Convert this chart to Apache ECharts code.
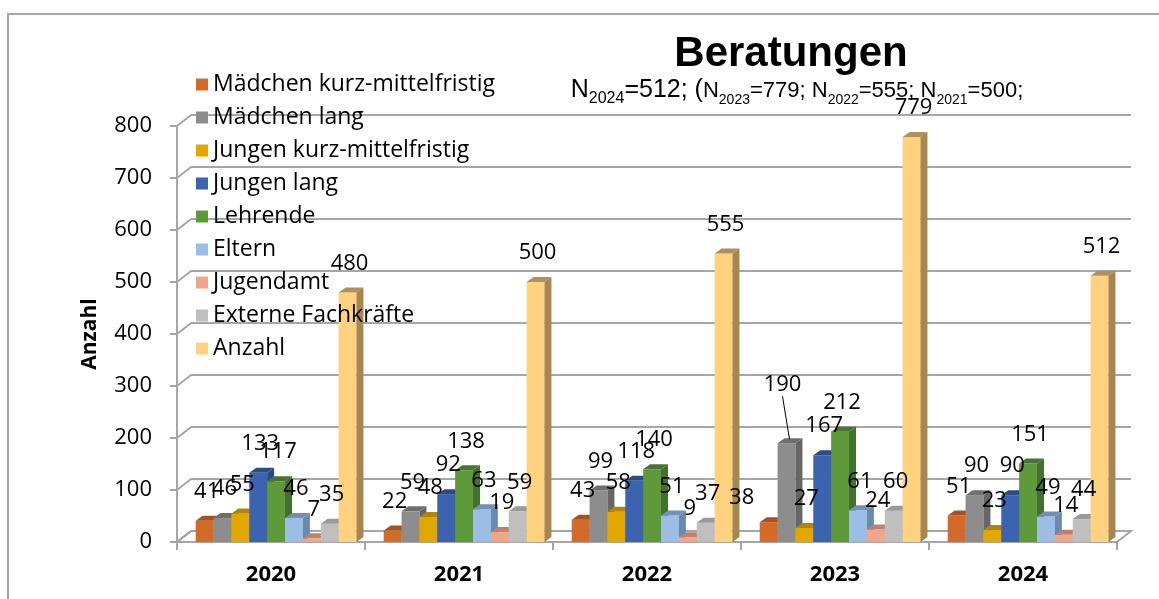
<!DOCTYPE html>
<html>
<head>
<meta charset="utf-8">
<script src="https://cdn.jsdelivr.net/npm/echarts@6/dist/echarts.min.js"></script>
<style>
html,body{margin:0;padding:0;background:#fff;}
#chart{width:1159px;height:599px;}
</style>
</head>
<body>
<div id="chart"></div>
<script>
// ---- data ----
const categories = ['2020', '2021', '2022', '2023', '2024'];
const seriesNames = ['Mädchen kurz-mittelfristig', 'Mädchen lang', 'Jungen kurz-mittelfristig', 'Jungen lang', 'Lehrende', 'Eltern', 'Jugendamt', 'Externe Fachkräfte', 'Anzahl'];
const maedchenKurz = [41, 22, 43, 38, 51];
const maedchenLang = [46, 59, 99, 190, 90];
const jungenKurz = [55, 48, 58, 27, 23];
const jungenLang = [133, 92, 118, 167, 90];
const lehrende = [117, 138, 140, 212, 151];
const eltern = [46, 63, 51, 61, 49];
const jugendamt = [7, 19, 9, 24, 14];
const externe = [35, 59, 37, 60, 44];
const anzahl = [480, 500, 555, 779, 512];
const yTicks = [0, 100, 200, 300, 400, 500, 600, 700, 800];
const allValues = [maedchenKurz, maedchenLang, jungenKurz, jungenLang, lehrende, eltern, jugendamt, externe, anzahl];

// ---- styles ----
const frontC = ['#D36A27', '#8D8D8D', '#E2A800', '#3B63B0', '#5E9A3A', '#9CBEE4', '#F0A68A', '#BFBFBF', '#FFD27F'];
const topC   = ['#A9531C', '#6F6F6F', '#B48600', '#2C4C89', '#477530', '#7090B6', '#C28068', '#9A9A9A', '#B58F58'];
const sideC  = ['#A0501A', '#666666', '#AA7F00', '#2A4882', '#43702D', '#6A89AE', '#B97A63', '#939393', '#A8864F'];
const DX = 7, DY = 5;           // bar depth
const WX = 14, WY = 11;         // wall depth
const labelFont = '"Open Sans", Lato, sans-serif';
const arial = '"Liberation Sans", Arial, sans-serif';
// label nudges (series-category): [dx, dy, leader]
const labelAdjust = {'0-3': [-29, 4, false], '1-3': [-6, -29, true]};

function barRender(si) {
  return function (params, api) {
    const ci = api.value(0), v = api.value(1);
    const b = api.coord([ci, 0]);
    const t = api.coord([ci, v]);
    const cw = api.size([1, 0])[0];
    const bw = cw * 0.855 / 9;
    const x0 = b[0] + cw * 0.027 - 4.5 * bw + si * bw;
    const children = [
      {type: 'rect', shape: {x: x0, y: t[1], width: bw, height: b[1] - t[1]}, style: {fill: frontC[si]}},
      {type: 'polygon', shape: {points: [[x0, t[1]], [x0 + bw, t[1]], [x0 + bw + DX, t[1] - DY], [x0 + DX, t[1] - DY]]}, style: {fill: topC[si]}},
      {type: 'polygon', shape: {points: [[x0 + bw, t[1]], [x0 + bw + DX, t[1] - DY], [x0 + bw + DX, b[1] - DY], [x0 + bw, b[1]]]}, style: {fill: sideC[si]}}
    ];
    const adj = labelAdjust[si + '-' + params.dataIndex] || [0, 0, false];
    const lx = x0 + bw / 2 + 2 + adj[0];
    const ly = t[1] - 29 + adj[1];
    children.push({type: 'text', z2: 100, style: {text: String(v), x: lx, y: ly, align: 'center', verticalAlign: 'middle', fill: '#000', fontSize: 22, fontFamily: labelFont}});
    if (adj[2]) {
      children.push({type: 'line', z2: 100, shape: {x1: lx, y1: ly + 11, x2: x0 + bw / 2 + 3, y2: t[1] - 4}, style: {stroke: '#000', lineWidth: 1}});
    }
    return {type: 'group', children: children};
  };
}

const series = [];
// floor
series.push({
  type: 'custom', name: '_floor', xAxisIndex: 0, yAxisIndex: 0, silent: true, z: 1,
  data: [[0, 0]],
  renderItem: function (params, api) {
    const c = api.coord([0, 0]);
    const cw = api.size([1, 0])[0];
    const l = c[0] - cw / 2, r = l + cw * categories.length, y = c[1];
    return {type: 'group', children: [
      {type: 'polygon', shape: {points: [[l, y], [r, y], [r + WX, y - WY], [l + WX, y - WY]]}, style: {fill: '#fff', stroke: '#A6A6A6', lineWidth: 2}}
    ]};
  }
});
// wall connectors
series.push({
  type: 'custom', name: '_wall', xAxisIndex: 0, yAxisIndex: 0, silent: true, z: 1,
  data: yTicks.map(v => [0, v]),
  renderItem: function (params, api) {
    const c = api.coord([0, api.value(1)]);
    const cw = api.size([1, 0])[0];
    const l = c[0] - cw / 2;
    return {type: 'line', shape: {x1: l, y1: c[1], x2: l + WX, y2: c[1] - WY}, style: {stroke: '#A6A6A6', lineWidth: 2}};
  }
});
seriesNames.forEach(function (name, si) {
  series.push({
    type: 'custom', name: name, xAxisIndex: 0, yAxisIndex: 0, z: 3,
    itemStyle: {color: frontC[si]},
    data: allValues[si].map((v, i) => [i, v]),
    encode: {x: 0, y: 1},
    renderItem: barRender(si)
  });
});

const chart = echarts.init(document.getElementById('chart'), null, {renderer: 'canvas'});
chart.setOption({
  backgroundColor: '#fff',
  animation: false,
  title: [
    {text: 'Beratungen', left: 786, top: 28, textAlign: 'center',
     textStyle: {fontFamily: arial, fontWeight: 'bold', fontSize: 42, color: '#000'}},
    {text: '{a|N}{s|2024}{a|=512; (}{m|N}{t|2023}{m|=779; N}{t|2022}{m|=555; N}{t|2021}{m|=500;}',
     left: 792, top: 77, textAlign: 'center',
     textStyle: {fontWeight: 'normal', rich: {
       a: {fontFamily: arial, fontWeight: 'normal', fontSize: 25, lineHeight: 25, verticalAlign: 'bottom', padding: [0, 0, 4, 0], color: '#000'},
       s: {fontFamily: arial, fontWeight: 'normal', fontSize: 16, lineHeight: 16, verticalAlign: 'bottom', color: '#000'},
       m: {fontFamily: arial, fontWeight: 'normal', fontSize: 22, lineHeight: 22, verticalAlign: 'bottom', padding: [0, 0, 5, 0], color: '#000'},
       t: {fontFamily: arial, fontWeight: 'normal', fontSize: 14, lineHeight: 14, verticalAlign: 'bottom', color: '#000'}
     }}}
  ],
  legend: {
    data: seriesNames, orient: 'vertical', left: 191, top: 68,
    icon: 'rect', itemWidth: 12, itemHeight: 12, itemGap: 10,
    textStyle: {fontFamily: labelFont, fontSize: 23, color: '#000', lineHeight: 22, padding: [0, 0, 0, 0]}
  },
  graphic: [
    {type: 'rect', shape: {x: 8, y: 14, width: 1200, height: 700}, style: {fill: 'none', stroke: '#A6A6A6', lineWidth: 2}, silent: true, z: -1}
  ],
  grid: [
    {left: 177, right: 42, top: 126, bottom: 57},
    {left: 177 + WX, right: 42 - WX, top: 126 - WY, bottom: 57 + WY}
  ],
  xAxis: [
    {type: 'category', gridIndex: 0, data: categories,
     axisLine: {lineStyle: {color: '#A6A6A6', width: 2}},
     axisTick: {show: true, length: 8, lineStyle: {color: '#A6A6A6', width: 2}},
     axisLabel: {fontFamily: labelFont, fontWeight: 'bold', fontSize: 22, color: '#000', margin: 22}},
    {type: 'category', gridIndex: 1, data: categories, show: false}
  ],
  yAxis: [
    {type: 'value', gridIndex: 0, min: 0, max: 800, interval: 100,
     name: 'Anzahl', nameLocation: 'middle', nameGap: 76,
     nameTextStyle: {fontFamily: labelFont, fontWeight: 'bold', fontSize: 21, color: '#000'},
     axisLine: {show: true, lineStyle: {color: '#A6A6A6', width: 2}},
     axisTick: {show: true, length: 7, lineStyle: {color: '#A6A6A6', width: 2}},
     axisLabel: {fontFamily: labelFont, fontSize: 22, color: '#000', margin: 25},
     splitLine: {show: false}},
    {type: 'value', gridIndex: 1, min: 0, max: 800, interval: 100,
     axisLine: {show: false}, axisTick: {show: false}, axisLabel: {show: false},
     splitLine: {show: true, lineStyle: {color: '#A6A6A6', width: 2}}}
  ],
  series: series
});
</script>
</body>
</html>
